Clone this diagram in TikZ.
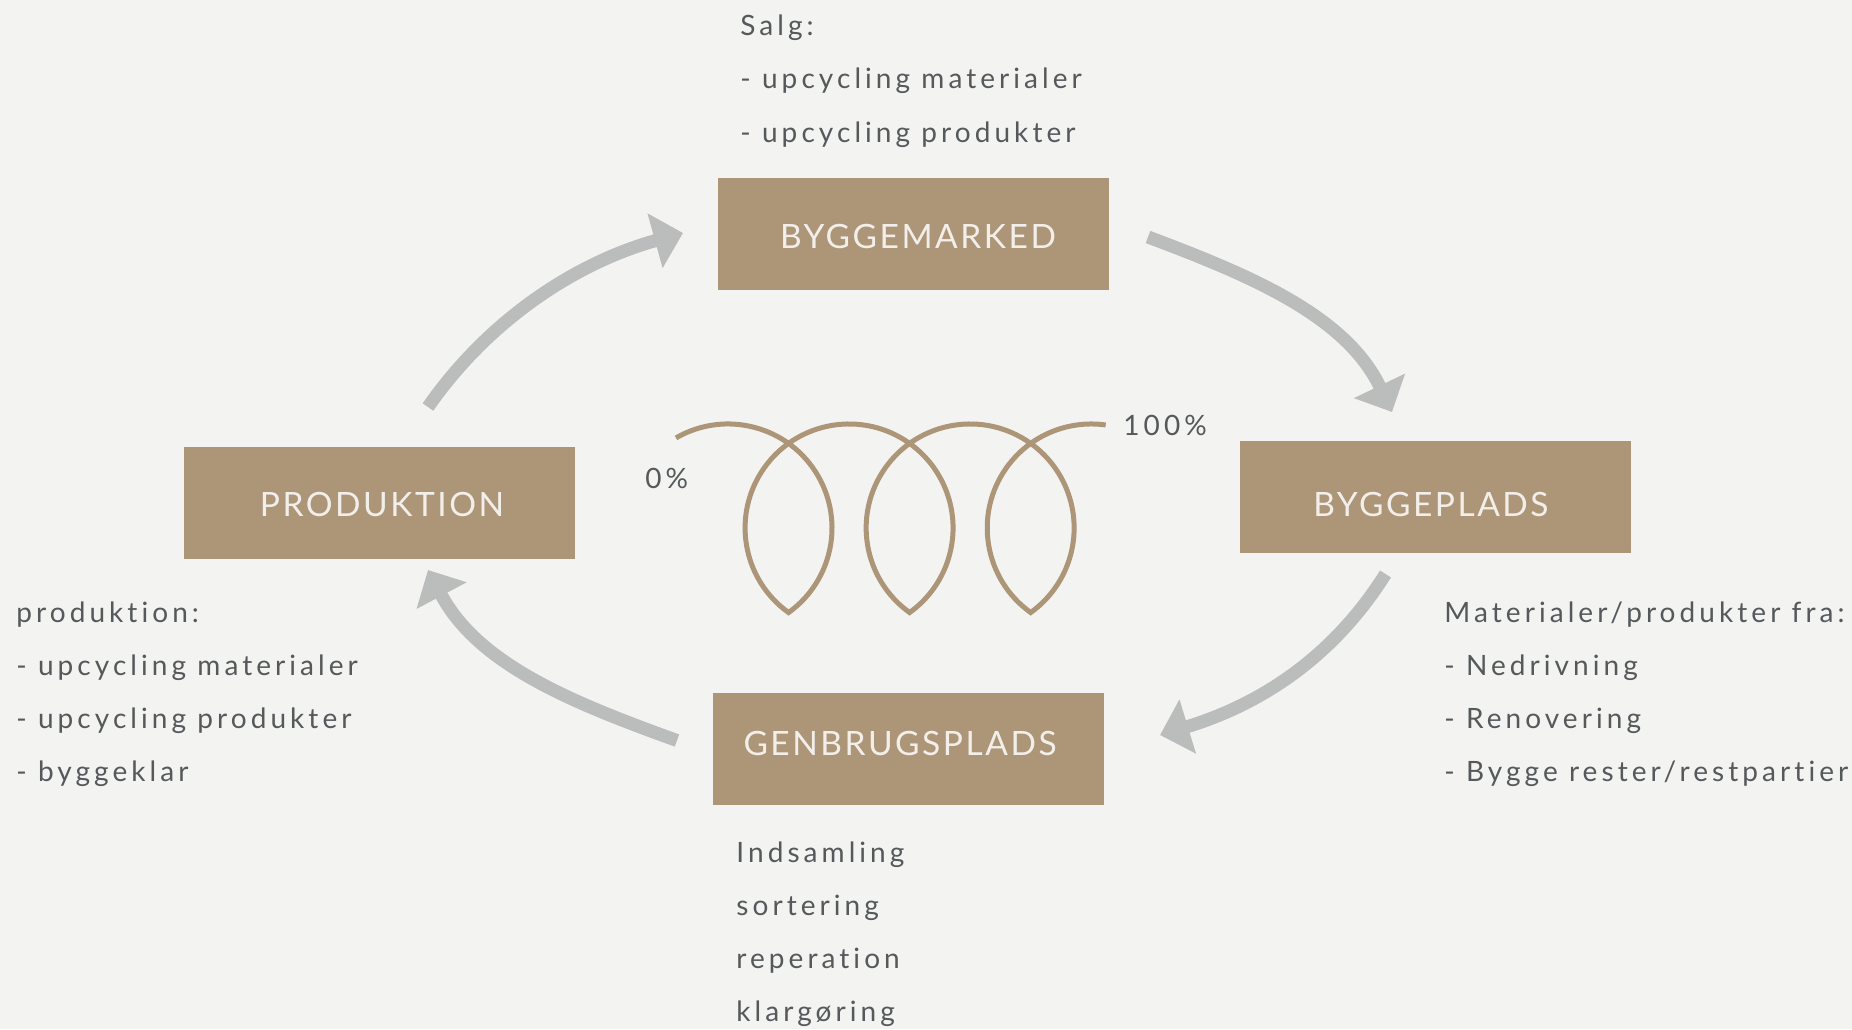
\documentclass[tikz,border=0pt]{standalone}
\usepackage{fontspec}
\usepackage{xcolor}
\usetikzlibrary{arrows.meta}
\setmainfont{Lato}
\newfontfamily\bodyfont{Lato}[LetterSpace=14.5, Ligatures=NoCommon]
\newfontfamily\boxfont{Lato}[LetterSpace=7.5, Ligatures=NoCommon]

\definecolor{bg}{HTML}{F3F3F1}
\definecolor{boxbrown}{HTML}{AD9578}
\definecolor{arrowgray}{HTML}{BBBDBC}
\definecolor{textgray}{HTML}{55595B}
\definecolor{boxtext}{HTML}{F2EFEA}

\tikzset{
  stage/.style={fill=boxbrown, minimum width=195.5pt, minimum height=56pt, inner sep=0pt},
  stagetext/.style={inner sep=0pt, text=boxtext, font=\boxfont\fontsize{16.75}{20}\selectfont},
  info/.style={anchor=base west, inner sep=0pt, text=textgray,
    font=\bodyfont\fontsize{14}{17}\selectfont},
  flow/.style={draw=arrowgray, line width=6.5pt, -{Triangle[width=27.5pt,length=14.5pt]}}
}

\begin{document}
\begin{tikzpicture}[x=0.5pt, y=-0.5pt]

 \fill[bg] (0,0) rectangle (1852,1029);

 % boxes
 \foreach \name/\x/\y/\tx/\ty/\txt in {marked/913/233.5/918/236.5/BYGGEMARKED,
        prod/379.5/503/382/504/PRODUKTION,
        plads/1435.5/497/1431/504/BYGGEPLADS,
        genbrug/908.5/749/900/743.5/GENBRUGSPLADS} {
    \node[stage] (\name) at (\x,\y) {};
    \node[stagetext] (\name txt) at (\tx,\ty) {\txt};
 }

 % texts
 \foreach \i/\txt in {0/Salg:, 1/- upcycling materialer, 2/- upcycling produkter}
    \node[info] (salg\i) at (740, 35+53.5*\i) {\txt};

 \foreach \i/\txt in {0/produktion:, 1/- upcycling materialer, 2/- upcycling produkter, 3/- byggeklar}
    \node[info] (prodtxt\i) at (16, 622+53.3*\i) {\txt};

 \foreach \i/\txt in {0/{Materialer/produkter fra:}, 1/- Nedrivning, 2/- Renovering, 3/{- Bygge rester/restpartier}}
    \node[info] (pladstxt\i) at (1444, 622+53.3*\i) {\txt};

 \foreach \i/\txt in {0/Indsamling, 1/sortering, 2/reperation, 3/klargøring}
    \node[info] (genbrugtxt\i) at (736, 862+53.3*\i) {\txt};

 \node[info] (zero) at (645,488) {0\%};
 \node[info] (full) at (1123,435) {100\%};

 % spiral
 \coordinate (spiral) at (676,437.9);
 \draw[boxbrown, line width=2.5pt] (spiral)
    arc[start angle=240, end angle=414.4, radius=104]
    arc[start angle=125.6, end angle=414.4, radius=104]
    arc[start angle=125.6, end angle=414.4, radius=104]
    arc[start angle=125.6, end angle=278, radius=104];

 % arrows
 \coordinate (a1) at (428,407);    \coordinate (b1) at (683,233);
 \coordinate (a2) at (1148,237);   \coordinate (b2) at (1392,412);
 \coordinate (a3) at (1385.5,574); \coordinate (b3) at (1160,735);
 \coordinate (a4) at (677,740.5);  \coordinate (b4) at (428,570);

 \draw[flow] (a1) .. controls (490,318) and (578,262) .. (b1);
 \draw[flow] (a2) .. controls (1252,276) and (1346,316) .. (b2);
 \draw[flow] (a3) .. controls (1330,662) and (1255,706) .. (b3);
 \draw[flow] (a4) .. controls (570,702) and (478,664) .. (b4);

\end{tikzpicture}
\end{document}
